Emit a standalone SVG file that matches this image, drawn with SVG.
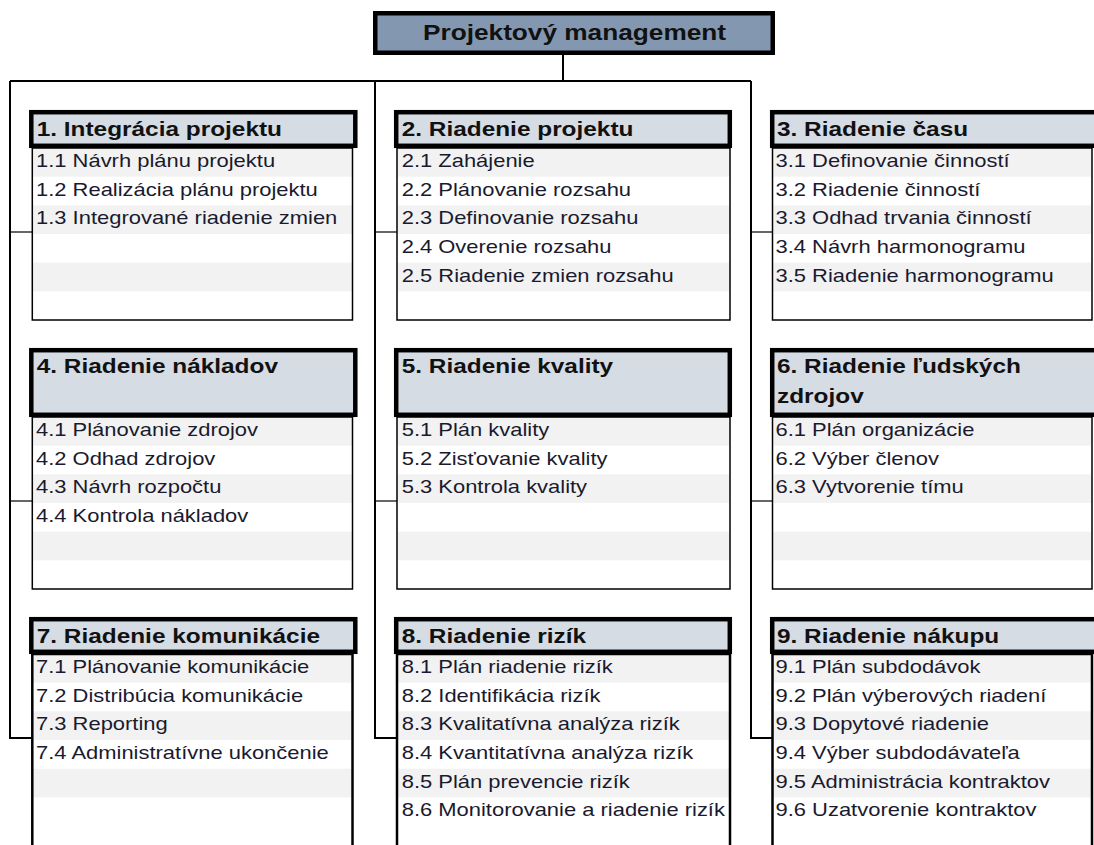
<svg xmlns="http://www.w3.org/2000/svg" width="1094" height="845" viewBox="0 0 1094 845">
<style>
.bg{fill:#ffffff}
.title{fill:#8497b0;stroke:#000;stroke-width:4.5}
.hd{fill:#d6dce4;stroke:#000;stroke-width:4.5}
.bdf{fill:#ffffff}
.bd{fill:none;stroke:#000;stroke-width:1.5}
.bd3{fill:none;stroke:#000;stroke-width:2.5}
.sh{fill:#f2f2f2}
.tt{font-family:"Liberation Sans",Arial,sans-serif;font-weight:bold;font-size:21.5px;fill:#111}
.ht{font-family:"Liberation Sans",Arial,sans-serif;font-weight:bold;font-size:20px;fill:#111}
.it{font-family:"Liberation Sans",Arial,sans-serif;font-size:18px;fill:#1a1a2e}
.ln{fill:none;stroke:#000;stroke-width:2}
.tk{fill:none;stroke:#000;stroke-width:1.2}
</style>
<rect class="bg" x="0" y="0" width="1094" height="845"/>

<g id="connectors">
  <line class="ln" x1="563" y1="55" x2="563" y2="81"/>
  <line class="ln" x1="10" y1="81" x2="751" y2="81"/>
  <polyline class="ln" points="10,81 10,738 32,738"/>
  <polyline class="ln" points="375,81 375,738 397,738"/>
  <polyline class="ln" points="751,81 751,738 772,738"/>
  <line class="tk" x1="10" y1="232" x2="32" y2="232"/>
  <line class="tk" x1="375" y1="232" x2="397" y2="232"/>
  <line class="tk" x1="751" y1="232" x2="772" y2="232"/>
  <line class="tk" x1="10" y1="501" x2="32" y2="501"/>
  <line class="tk" x1="375" y1="501" x2="397" y2="501"/>
  <line class="tk" x1="751" y1="501" x2="772" y2="501"/>
</g>

<g id="root">
  <rect class="title" x="375.25" y="13.25" width="397.5" height="39.5"/>
  <text class="tt" text-anchor="middle" transform="translate(574.5 40) scale(1.22 1)">Projektový management</text>
</g>

<!-- Row 1 -->
<g id="node1">
  <rect class="bdf" x="32.3" y="148" width="320.2" height="172"/>
  <rect class="sh" x="33" y="148" width="319" height="28.7"/>
  <rect class="sh" x="33" y="205.3" width="319" height="28.7"/>
  <rect class="sh" x="33" y="262.7" width="319" height="28.7"/>
  <rect class="bd" x="32.3" y="148" width="320.2" height="172"/>
  <rect class="hd" x="31.3" y="112.2" width="324" height="33.6"/>
  <text class="ht" transform="translate(36.7 136) scale(1.22 1)">1. Integrácia projektu</text>
  <text class="it" transform="translate(36 167) scale(1.22 1)">1.1 Návrh plánu projektu</text>
  <text class="it" transform="translate(36 195.7) scale(1.22 1)">1.2 Realizácia plánu projektu</text>
  <text class="it" transform="translate(36 224.3) scale(1.22 1)">1.3 Integrované riadenie zmien</text>
</g>

<g id="node2">
  <rect class="bdf" x="397" y="148" width="333" height="172"/>
  <rect class="sh" x="397.7" y="148" width="331.6" height="28.7"/>
  <rect class="sh" x="397.7" y="205.3" width="331.6" height="28.7"/>
  <rect class="sh" x="397.7" y="262.7" width="331.6" height="28.7"/>
  <rect class="bd" x="397" y="148" width="333" height="172"/>
  <rect class="hd" x="396.2" y="112.2" width="333.6" height="33.6"/>
  <text class="ht" transform="translate(401.7 136) scale(1.22 1)">2. Riadenie projektu</text>
  <text class="it" transform="translate(401.7 167) scale(1.22 1)">2.1 Zahájenie</text>
  <text class="it" transform="translate(401.7 195.7) scale(1.22 1)">2.2 Plánovanie rozsahu</text>
  <text class="it" transform="translate(401.7 224.3) scale(1.22 1)">2.3 Definovanie rozsahu</text>
  <text class="it" transform="translate(401.7 253) scale(1.22 1)">2.4 Overenie rozsahu</text>
  <text class="it" transform="translate(401.7 281.7) scale(1.22 1)">2.5 Riadenie zmien rozsahu</text>
</g>

<g id="node3">
  <rect class="bdf" x="772.5" y="148" width="319.5" height="172"/>
  <rect class="sh" x="773.2" y="148" width="318" height="28.7"/>
  <rect class="sh" x="773.2" y="205.3" width="318" height="28.7"/>
  <rect class="sh" x="773.2" y="262.7" width="318" height="28.7"/>
  <rect class="bd" x="772.5" y="148" width="319.5" height="172"/>
  <rect class="hd" x="772.2" y="112.2" width="330" height="33.6"/>
  <text class="ht" transform="translate(777 136) scale(1.22 1)">3. Riadenie času</text>
  <text class="it" transform="translate(775.5 167) scale(1.22 1)">3.1 Definovanie činností</text>
  <text class="it" transform="translate(775.5 195.7) scale(1.22 1)">3.2 Riadenie činností</text>
  <text class="it" transform="translate(775.5 224.3) scale(1.22 1)">3.3 Odhad trvania činností</text>
  <text class="it" transform="translate(775.5 253) scale(1.22 1)">3.4 Návrh harmonogramu</text>
  <text class="it" transform="translate(775.5 281.7) scale(1.22 1)">3.5 Riadenie harmonogramu</text>
</g>

<!-- Row 2 -->
<g id="node4">
  <rect class="bdf" x="32.3" y="417" width="320.2" height="172"/>
  <rect class="sh" x="33" y="417" width="319" height="28.7"/>
  <rect class="sh" x="33" y="474.3" width="319" height="28.7"/>
  <rect class="sh" x="33" y="531.7" width="319" height="28.7"/>
  <rect class="bd" x="32.3" y="417" width="320.2" height="172"/>
  <rect class="hd" x="31.3" y="350.2" width="324" height="64.6"/>
  <text class="ht" transform="translate(36.7 373) scale(1.22 1)">4. Riadenie nákladov</text>
  <text class="it" transform="translate(36 436) scale(1.22 1)">4.1 Plánovanie zdrojov</text>
  <text class="it" transform="translate(36 464.7) scale(1.22 1)">4.2 Odhad zdrojov</text>
  <text class="it" transform="translate(36 493.3) scale(1.22 1)">4.3 Návrh rozpočtu</text>
  <text class="it" transform="translate(36 522) scale(1.22 1)">4.4 Kontrola nákladov</text>
</g>

<g id="node5">
  <rect class="bdf" x="397" y="417" width="333" height="172"/>
  <rect class="sh" x="397.7" y="417" width="331.6" height="28.7"/>
  <rect class="sh" x="397.7" y="474.3" width="331.6" height="28.7"/>
  <rect class="sh" x="397.7" y="531.7" width="331.6" height="28.7"/>
  <rect class="bd" x="397" y="417" width="333" height="172"/>
  <rect class="hd" x="396.2" y="350.2" width="333.6" height="64.6"/>
  <text class="ht" transform="translate(401.7 373) scale(1.22 1)">5. Riadenie kvality</text>
  <text class="it" transform="translate(401.7 436) scale(1.22 1)">5.1 Plán kvality</text>
  <text class="it" transform="translate(401.7 464.7) scale(1.22 1)">5.2 Zisťovanie kvality</text>
  <text class="it" transform="translate(401.7 493.3) scale(1.22 1)">5.3 Kontrola kvality</text>
</g>

<g id="node6">
  <rect class="bdf" x="772.5" y="417" width="319.5" height="172"/>
  <rect class="sh" x="773.2" y="417" width="318" height="28.7"/>
  <rect class="sh" x="773.2" y="474.3" width="318" height="28.7"/>
  <rect class="sh" x="773.2" y="531.7" width="318" height="28.7"/>
  <rect class="bd" x="772.5" y="417" width="319.5" height="172"/>
  <rect class="hd" x="772.2" y="350.2" width="330" height="64.6"/>
  <text class="ht" transform="translate(777 373) scale(1.22 1)">6. Riadenie ľudských</text>
  <text class="ht" transform="translate(777 403) scale(1.22 1)">zdrojov</text>
  <text class="it" transform="translate(775.5 436) scale(1.22 1)">6.1 Plán organizácie</text>
  <text class="it" transform="translate(775.5 464.7) scale(1.22 1)">6.2 Výber členov</text>
  <text class="it" transform="translate(775.5 493.3) scale(1.22 1)">6.3 Vytvorenie tímu</text>
</g>

<!-- Row 3 -->
<g id="node7">
  <rect class="bdf" x="32.3" y="654" width="320.2" height="210"/>
  <rect class="sh" x="33" y="654" width="319" height="28.7"/>
  <rect class="sh" x="33" y="711.3" width="319" height="28.7"/>
  <rect class="sh" x="33" y="768.7" width="319" height="28.7"/>
  <rect class="bd3" x="32.3" y="654" width="320.2" height="210"/>
  <rect class="hd" x="31.3" y="619.2" width="324" height="32.6"/>
  <text class="ht" transform="translate(36.7 643) scale(1.22 1)">7. Riadenie komunikácie</text>
  <text class="it" transform="translate(36 673) scale(1.22 1)">7.1 Plánovanie komunikácie</text>
  <text class="it" transform="translate(36 701.7) scale(1.22 1)">7.2 Distribúcia komunikácie</text>
  <text class="it" transform="translate(36 730.3) scale(1.22 1)">7.3 Reporting</text>
  <text class="it" transform="translate(36 759) scale(1.22 1)">7.4 Administratívne ukončenie</text>
</g>

<g id="node8">
  <rect class="bdf" x="397" y="654" width="333" height="210"/>
  <rect class="sh" x="397.7" y="654" width="331.6" height="28.7"/>
  <rect class="sh" x="397.7" y="711.3" width="331.6" height="28.7"/>
  <rect class="sh" x="397.7" y="768.7" width="331.6" height="28.7"/>
  <rect class="bd3" x="397" y="654" width="333" height="210"/>
  <rect class="hd" x="396.2" y="619.2" width="333.6" height="32.6"/>
  <text class="ht" transform="translate(401.7 643) scale(1.22 1)">8. Riadenie rizík</text>
  <text class="it" transform="translate(401.7 673) scale(1.22 1)">8.1 Plán riadenie rizík</text>
  <text class="it" transform="translate(401.7 701.7) scale(1.22 1)">8.2 Identifikácia rizík</text>
  <text class="it" transform="translate(401.7 730.3) scale(1.22 1)">8.3 Kvalitatívna analýza rizík</text>
  <text class="it" transform="translate(401.7 759) scale(1.22 1)">8.4 Kvantitatívna analýza rizík</text>
  <text class="it" transform="translate(401.7 787.7) scale(1.22 1)">8.5 Plán prevencie rizík</text>
  <text class="it" transform="translate(401.7 816.3) scale(1.22 1)">8.6 Monitorovanie a riadenie rizík</text>
</g>

<g id="node9">
  <rect class="bdf" x="772.5" y="654" width="319.5" height="210"/>
  <rect class="sh" x="773.2" y="654" width="318" height="28.7"/>
  <rect class="sh" x="773.2" y="711.3" width="318" height="28.7"/>
  <rect class="sh" x="773.2" y="768.7" width="318" height="28.7"/>
  <rect class="bd3" x="772.5" y="654" width="319.5" height="210"/>
  <rect class="hd" x="772.2" y="619.2" width="330" height="32.6"/>
  <text class="ht" transform="translate(777 643) scale(1.22 1)">9. Riadenie nákupu</text>
  <text class="it" transform="translate(775.5 673) scale(1.22 1)">9.1 Plán subdodávok</text>
  <text class="it" transform="translate(775.5 701.7) scale(1.22 1)">9.2 Plán výberových riadení</text>
  <text class="it" transform="translate(775.5 730.3) scale(1.22 1)">9.3 Dopytové riadenie</text>
  <text class="it" transform="translate(775.5 759) scale(1.22 1)">9.4 Výber subdodávateľa</text>
  <text class="it" transform="translate(775.5 787.7) scale(1.22 1)">9.5 Administrácia kontraktov</text>
  <text class="it" transform="translate(775.5 816.3) scale(1.22 1)">9.6 Uzatvorenie kontraktov</text>
</g>
</svg>
